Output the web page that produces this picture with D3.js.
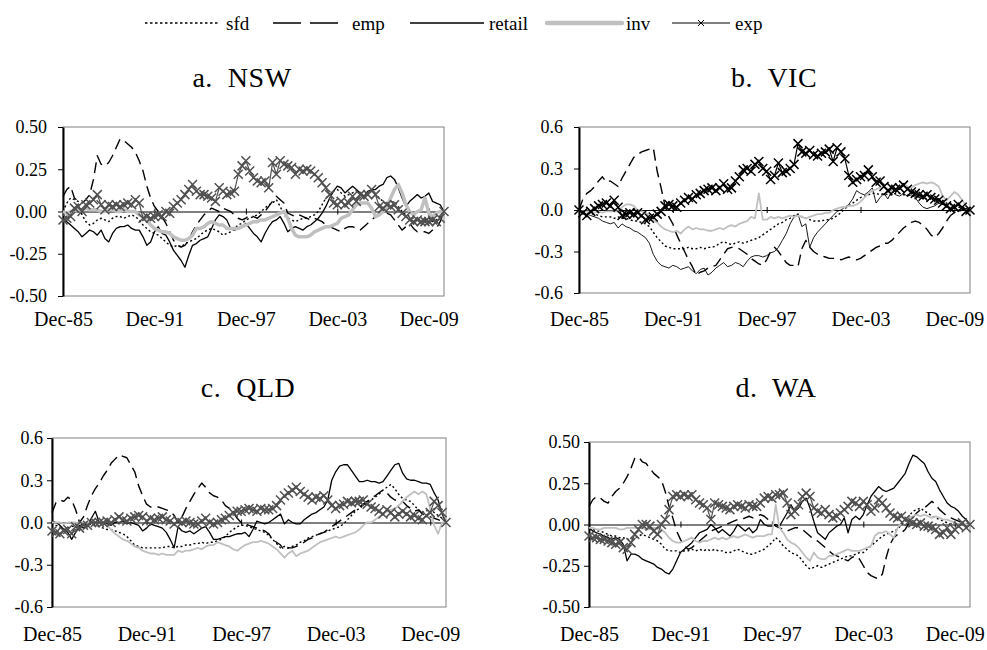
<!DOCTYPE html>
<html>
<head>
<meta charset="utf-8">
<script src="https://cdnjs.cloudflare.com/ajax/libs/d3/7.8.5/d3.min.js"></script>
<style>
  body { margin: 0; background: #fff; }
  svg text { font-family: "Liberation Serif", "DejaVu Serif", serif; fill: #000; }
</style>
</head>
<body>
<svg id="chart" width="987" height="650"></svg>
<script>
// quarterly points, Dec-85 .. Dec-10 (101 per series)
const tickIdx = [0, 24, 48, 72, 96];
const tickLabels = ["Dec-85", "Dec-91", "Dec-97", "Dec-03", "Dec-09"];
const seriesNames = ["sfd", "emp", "retail", "inv", "exp"];

// a. NSW
const nswSfd = [0.00,0.05,0.08,0.07,0.06,-0.02,-0.06,-0.08,-0.07,-0.05,
  -0.04,-0.05,-0.06,-0.04,-0.03,-0.03,-0.04,-0.03,-0.02,-0.03,
  -0.05,-0.08,-0.10,-0.12,-0.13,-0.14,-0.16,-0.18,-0.20,-0.21,
  -0.20,-0.21,-0.19,-0.18,-0.17,-0.16,-0.14,-0.12,-0.11,-0.10,
  -0.11,-0.12,-0.14,-0.13,-0.12,-0.10,-0.08,-0.07,-0.05,-0.04,
  -0.03,-0.02,0.00,0.02,0.04,0.05,0.07,0.03,-0.02,-0.04,
  -0.05,-0.06,-0.05,-0.04,-0.04,-0.03,-0.02,0.00,0.04,0.08,
  0.10,0.12,0.13,0.11,0.09,0.10,0.11,0.12,0.10,0.09,
  0.11,0.12,0.10,0.08,0.06,0.04,0.05,0.06,0.03,0.00,
  -0.02,-0.03,-0.04,-0.05,-0.06,-0.05,-0.04,-0.06,-0.05,-0.03,
  0.00];
const nswEmp = [0.09,0.13,0.15,0.08,0.06,0.05,0.07,0.10,0.19,0.33,
  0.28,0.27,0.29,0.33,0.38,0.43,0.42,0.40,0.38,0.35,
  0.30,0.24,0.15,0.08,0.03,0.00,-0.03,-0.07,-0.12,-0.17,
  -0.20,-0.21,-0.20,-0.17,-0.12,-0.08,-0.05,-0.02,0.00,0.02,
  0.01,0.00,0.02,0.01,0.00,-0.02,-0.04,-0.05,-0.04,-0.02,
  -0.03,-0.04,-0.02,0.00,0.03,0.06,0.09,0.07,0.05,-0.01,
  -0.02,-0.03,-0.02,-0.03,-0.04,-0.05,-0.04,-0.05,-0.06,-0.08,
  -0.09,-0.10,-0.11,-0.12,-0.10,-0.09,-0.09,-0.10,-0.11,-0.09,
  -0.07,-0.05,-0.03,-0.01,0.00,-0.01,-0.02,-0.05,-0.08,-0.11,
  -0.09,-0.07,-0.10,-0.12,-0.12,-0.12,-0.13,-0.11,-0.10,-0.06,
  0.00];
const nswRetail = [-0.05,-0.06,-0.08,-0.10,-0.12,-0.15,-0.13,-0.11,-0.12,-0.14,
  -0.11,-0.16,-0.18,-0.13,-0.10,-0.09,-0.09,-0.08,-0.10,-0.11,
  -0.11,-0.15,-0.20,-0.18,-0.12,-0.09,-0.13,-0.14,-0.18,-0.23,
  -0.26,-0.29,-0.33,-0.26,-0.20,-0.19,-0.17,-0.16,-0.15,-0.10,
  -0.05,-0.02,-0.03,-0.05,-0.10,-0.11,-0.10,-0.09,-0.07,-0.10,
  -0.13,-0.15,-0.18,-0.13,-0.09,-0.06,-0.05,-0.03,-0.07,-0.12,
  -0.10,-0.09,-0.10,-0.11,-0.09,-0.08,-0.06,-0.04,-0.01,0.03,
  0.08,0.12,0.15,0.14,0.11,0.13,0.15,0.13,0.11,0.09,
  0.12,0.13,0.13,0.15,0.16,0.20,0.21,0.19,0.14,0.08,
  0.03,0.06,0.08,0.10,0.08,0.09,0.11,0.06,0.05,0.04,
  0.00];
const nswInv = [0.00,-0.01,0.00,0.00,0.01,0.01,0.02,0.01,0.01,0.01,
  0.00,0.00,0.01,0.01,0.00,0.00,0.01,0.00,0.00,0.00,
  -0.02,-0.03,-0.05,-0.08,-0.10,-0.11,-0.12,-0.12,-0.13,-0.15,
  -0.16,-0.17,-0.17,-0.16,-0.14,-0.10,-0.10,-0.09,-0.07,-0.06,
  -0.07,-0.08,-0.08,-0.10,-0.10,-0.10,-0.10,-0.09,-0.08,-0.07,
  -0.06,-0.06,-0.05,-0.05,-0.04,-0.03,-0.02,-0.01,0.00,-0.04,
  -0.10,-0.14,-0.15,-0.15,-0.15,-0.14,-0.12,-0.11,-0.10,-0.09,
  -0.09,-0.08,-0.07,-0.04,-0.03,-0.02,0.01,0.04,0.05,0.05,
  0.05,0.02,-0.03,-0.02,0.00,0.03,0.08,0.13,0.16,0.11,
  0.04,0.00,-0.02,0.00,0.01,0.08,-0.01,-0.03,-0.01,0.00,
  0.00];
const nswExp = [-0.05,-0.04,-0.03,0.02,0.03,0.00,0.04,0.05,0.07,0.10,
  0.04,0.01,0.04,0.03,0.04,0.03,0.04,0.05,0.04,0.07,
  0.05,-0.04,-0.03,-0.04,-0.03,-0.02,-0.03,0.00,-0.01,0.03,
  0.05,0.07,0.10,0.13,0.16,0.12,0.10,0.10,0.09,0.08,
  0.06,0.14,0.12,0.10,0.11,0.12,0.22,0.27,0.30,0.24,
  0.20,0.18,0.17,0.18,0.14,0.29,0.22,0.30,0.28,0.27,
  0.26,0.22,0.25,0.24,0.25,0.24,0.22,0.20,0.17,0.14,
  0.10,0.05,0.04,0.06,0.04,0.05,0.09,0.06,0.10,0.09,
  0.10,0.13,0.10,0.03,0.02,0.04,0.03,0.04,0.01,-0.01,
  -0.03,-0.05,-0.06,-0.05,-0.06,-0.06,-0.06,-0.05,-0.06,-0.04,
  0.00];

// b. VIC
const vicSfd = [0.00,-0.01,-0.02,-0.03,-0.03,-0.04,-0.05,-0.05,-0.05,-0.06,
  -0.05,-0.06,-0.06,-0.07,-0.08,-0.08,-0.09,-0.10,-0.12,-0.16,
  -0.20,-0.23,-0.26,-0.27,-0.28,-0.28,-0.28,-0.28,-0.27,-0.28,
  -0.28,-0.27,-0.28,-0.27,-0.27,-0.26,-0.24,-0.23,-0.24,-0.25,
  -0.24,-0.23,-0.24,-0.23,-0.22,-0.21,-0.20,-0.18,-0.16,-0.14,
  -0.12,-0.10,-0.09,-0.07,-0.06,-0.04,-0.03,-0.05,-0.06,-0.07,
  -0.08,-0.08,-0.08,-0.07,-0.07,-0.06,-0.04,-0.02,0.01,0.03,
  0.05,0.07,0.09,0.10,0.11,0.12,0.12,0.11,0.12,0.11,
  0.11,0.12,0.12,0.11,0.11,0.10,0.10,0.09,0.09,0.08,
  0.08,0.07,0.08,0.07,0.05,0.04,0.03,0.02,0.02,0.01,
  0.00];
const vicEmp = [0.00,0.08,0.12,0.14,0.17,0.21,0.24,0.20,0.21,0.19,
  0.17,0.23,0.28,0.33,0.38,0.40,0.42,0.43,0.44,0.45,
  0.28,0.16,0.03,-0.05,-0.10,-0.18,-0.24,-0.30,-0.36,-0.41,
  -0.47,-0.45,-0.44,-0.42,-0.41,-0.40,-0.36,-0.32,-0.28,-0.27,
  -0.27,-0.28,-0.30,-0.32,-0.35,-0.37,-0.39,-0.40,-0.36,-0.30,
  -0.27,-0.30,-0.34,-0.38,-0.40,-0.40,-0.41,-0.28,-0.22,-0.27,
  -0.30,-0.32,-0.33,-0.34,-0.35,-0.35,-0.35,-0.36,-0.35,-0.34,
  -0.35,-0.36,-0.35,-0.33,-0.31,-0.29,-0.27,-0.26,-0.24,-0.24,
  -0.22,-0.19,-0.16,-0.13,-0.11,-0.09,-0.08,-0.09,-0.11,-0.14,
  -0.18,-0.20,-0.17,-0.13,-0.08,-0.04,-0.02,-0.01,0.00,0.01,
  0.00];
const vicRetail = [0.00,-0.02,-0.03,-0.04,-0.05,-0.06,-0.08,-0.09,-0.10,-0.09,
  -0.13,-0.10,-0.12,-0.13,-0.15,-0.16,-0.18,-0.20,-0.24,-0.32,
  -0.37,-0.40,-0.41,-0.42,-0.40,-0.41,-0.43,-0.42,-0.41,-0.44,
  -0.46,-0.43,-0.42,-0.47,-0.45,-0.42,-0.40,-0.38,-0.41,-0.40,
  -0.38,-0.39,-0.41,-0.37,-0.34,-0.33,-0.33,-0.34,-0.33,-0.31,
  -0.30,-0.27,-0.22,-0.17,-0.10,-0.05,-0.03,-0.12,-0.10,-0.27,
  -0.20,-0.16,-0.13,-0.10,-0.07,-0.04,-0.01,0.00,0.02,0.04,
  0.08,0.14,0.12,0.11,0.13,0.16,0.05,0.09,0.12,0.08,
  0.14,0.11,0.10,0.12,0.10,0.11,0.09,0.05,0.02,0.01,
  0.02,0.03,0.05,0.04,0.03,0.01,0.02,0.00,0.01,-0.01,
  0.00];
const vicInv = [0.00,-0.01,-0.01,-0.01,-0.02,-0.01,-0.02,-0.01,-0.01,-0.01,
  -0.01,0.02,0.04,0.04,0.03,0.00,-0.01,-0.02,-0.04,-0.07,
  -0.09,-0.12,-0.14,-0.15,-0.16,-0.15,-0.17,-0.14,-0.12,-0.14,
  -0.13,-0.14,-0.14,-0.15,-0.15,-0.14,-0.13,-0.14,-0.12,-0.11,
  -0.12,-0.10,-0.09,-0.08,-0.05,-0.06,0.12,-0.07,-0.07,-0.05,
  -0.06,-0.05,-0.06,-0.05,-0.04,-0.05,-0.04,-0.05,-0.06,-0.05,
  -0.04,-0.03,-0.03,-0.02,-0.02,0.00,0.01,0.02,0.02,0.03,
  0.03,0.04,0.06,0.09,0.12,0.14,0.15,0.16,0.17,0.15,
  0.13,0.15,0.16,0.19,0.17,0.16,0.18,0.19,0.20,0.19,
  0.20,0.19,0.17,0.10,0.07,0.10,0.13,0.11,0.07,0.03,
  0.00];
const vicExp = [0.00,-0.02,-0.04,-0.01,0.01,0.03,0.04,0.05,0.03,0.07,
  0.02,-0.04,-0.03,-0.02,-0.03,-0.02,-0.04,-0.07,-0.06,-0.05,
  -0.03,-0.01,0.03,0.04,0.03,0.02,0.05,0.07,0.09,0.08,
  0.11,0.12,0.14,0.15,0.16,0.14,0.16,0.19,0.15,0.16,
  0.21,0.24,0.29,0.30,0.28,0.33,0.35,0.30,0.28,0.22,
  0.25,0.34,0.27,0.28,0.30,0.33,0.48,0.42,0.41,0.43,
  0.40,0.39,0.41,0.42,0.44,0.35,0.45,0.42,0.37,0.25,
  0.20,0.22,0.24,0.25,0.29,0.24,0.20,0.21,0.17,0.14,
  0.16,0.15,0.16,0.18,0.15,0.13,0.12,0.11,0.10,0.11,
  0.09,0.08,0.07,0.05,0.03,0.01,0.02,0.04,0.02,-0.01,
  0.00];

// c. QLD
const qldSfd = [0.00,-0.02,-0.03,-0.05,-0.04,-0.03,-0.02,-0.02,-0.01,-0.02,
  -0.01,-0.02,-0.03,-0.04,-0.05,-0.05,-0.06,-0.07,-0.08,-0.10,
  -0.13,-0.16,-0.17,-0.18,-0.18,-0.18,-0.18,-0.18,-0.18,-0.17,
  -0.17,-0.18,-0.17,-0.17,-0.16,-0.16,-0.15,-0.15,-0.14,-0.15,
  -0.14,-0.14,-0.13,-0.12,-0.10,-0.07,-0.05,-0.03,-0.02,-0.02,
  -0.03,-0.04,-0.05,-0.06,-0.07,-0.09,-0.12,-0.15,-0.18,-0.17,
  -0.18,-0.17,-0.16,-0.14,-0.13,-0.11,-0.10,-0.09,-0.08,-0.07,
  -0.06,-0.05,-0.04,-0.03,-0.01,0.02,0.05,0.08,0.10,0.12,
  0.14,0.16,0.18,0.20,0.23,0.25,0.27,0.24,0.20,0.17,
  0.16,0.15,0.12,0.09,0.07,0.08,0.10,0.07,0.05,0.03,
  0.00];
const qldEmp = [0.07,0.14,0.16,0.15,0.18,0.16,0.09,0.00,0.04,0.12,
  0.19,0.24,0.28,0.33,0.37,0.42,0.45,0.48,0.47,0.46,
  0.41,0.36,0.26,0.19,0.13,0.11,0.11,0.11,0.10,0.09,
  0.08,0.05,0.00,0.04,0.10,0.15,0.20,0.24,0.28,0.25,
  0.21,0.19,0.18,0.16,0.12,0.10,0.07,0.03,0.00,-0.01,
  -0.02,-0.03,-0.04,-0.05,-0.06,-0.08,-0.12,-0.14,-0.16,-0.20,
  -0.18,-0.18,-0.17,-0.16,-0.14,-0.12,-0.11,-0.09,-0.08,-0.07,
  -0.05,-0.03,-0.01,0.01,0.03,0.05,0.07,0.09,0.11,0.13,
  0.15,0.17,0.19,0.21,0.23,0.21,0.18,0.16,0.16,0.15,
  0.12,0.10,0.08,0.09,0.06,0.05,0.04,0.03,0.02,0.01,
  0.00];
const qldRetail = [0.01,0.00,-0.02,-0.05,-0.07,-0.12,-0.07,-0.02,-0.04,-0.03,
  0.03,0.08,0.00,-0.01,-0.01,-0.02,0.00,0.00,0.01,-0.01,
  0.00,-0.01,-0.02,-0.06,-0.04,-0.01,-0.02,-0.03,-0.04,-0.07,
  -0.12,-0.18,-0.03,-0.06,-0.07,-0.06,-0.08,-0.06,-0.04,-0.03,
  -0.07,-0.12,-0.12,-0.11,-0.10,-0.10,-0.09,-0.08,-0.08,-0.07,
  -0.10,-0.05,0.01,0.00,-0.01,0.00,0.02,0.04,0.06,-0.01,
  0.02,0.00,-0.01,-0.01,0.02,0.04,0.06,0.07,0.09,0.11,
  0.16,0.30,0.36,0.40,0.41,0.41,0.37,0.33,0.29,0.29,
  0.30,0.29,0.29,0.28,0.29,0.33,0.37,0.41,0.42,0.35,
  0.31,0.30,0.30,0.29,0.28,0.28,0.27,0.21,0.16,0.06,
  0.00];
const qldInv = [0.00,0.00,0.00,-0.01,0.00,0.00,0.00,-0.01,0.00,0.00,
  0.00,0.00,0.00,-0.01,-0.02,-0.05,-0.08,-0.10,-0.12,-0.13,
  -0.15,-0.17,-0.18,-0.20,-0.21,-0.22,-0.22,-0.23,-0.22,-0.23,
  -0.23,-0.23,-0.20,-0.21,-0.20,-0.20,-0.19,-0.18,-0.19,-0.17,
  -0.16,-0.16,-0.14,-0.15,-0.16,-0.17,-0.19,-0.20,-0.18,-0.16,
  -0.15,-0.14,-0.14,-0.13,-0.14,-0.15,-0.17,-0.19,-0.22,-0.25,
  -0.22,-0.20,-0.24,-0.22,-0.21,-0.20,-0.18,-0.16,-0.14,-0.13,
  -0.12,-0.11,-0.10,-0.11,-0.10,-0.09,-0.08,-0.07,-0.05,-0.02,
  0.00,0.00,0.02,0.04,0.06,0.08,0.09,0.10,0.12,0.15,
  0.18,0.20,0.22,0.20,0.22,0.20,0.10,-0.02,-0.08,0.00,
  0.00];
const qldExp = [-0.06,-0.07,-0.08,-0.06,-0.05,-0.08,-0.03,-0.04,-0.02,-0.02,
  0.00,0.00,0.00,0.00,0.01,0.00,0.02,0.04,0.02,0.01,
  0.03,0.04,0.05,0.04,0.01,0.03,0.02,0.03,0.04,0.02,
  0.01,-0.01,0.01,0.00,0.01,0.00,-0.01,-0.01,0.01,0.03,
  0.00,-0.01,0.00,0.02,0.03,0.05,0.07,0.08,0.08,0.09,
  0.10,0.09,0.08,0.10,0.09,0.09,0.10,0.12,0.16,0.19,
  0.21,0.23,0.25,0.22,0.20,0.18,0.16,0.18,0.17,0.19,
  0.16,0.12,0.10,0.12,0.13,0.15,0.14,0.15,0.15,0.16,
  0.13,0.11,0.10,0.08,0.06,0.09,0.07,0.04,0.06,0.08,
  0.06,0.04,0.05,0.03,0.02,0.05,0.07,0.15,0.12,0.07,
  0.00];

// d. WA
const waSfd = [-0.02,-0.03,-0.04,-0.04,-0.05,-0.06,-0.07,-0.07,-0.08,-0.08,
  -0.09,-0.09,-0.08,-0.07,-0.06,-0.07,-0.08,-0.09,-0.10,-0.12,
  -0.15,-0.16,-0.16,-0.16,-0.17,-0.16,-0.16,-0.15,-0.16,-0.15,
  -0.16,-0.15,-0.16,-0.15,-0.16,-0.16,-0.17,-0.17,-0.16,-0.15,
  -0.16,-0.17,-0.18,-0.18,-0.17,-0.16,-0.15,-0.13,-0.11,-0.08,
  -0.10,-0.13,-0.15,-0.17,-0.18,-0.19,-0.22,-0.25,-0.27,-0.26,
  -0.25,-0.26,-0.25,-0.24,-0.23,-0.22,-0.21,-0.20,-0.19,-0.19,
  -0.18,-0.17,-0.17,-0.15,-0.13,-0.11,-0.09,-0.07,-0.06,-0.05,
  -0.04,-0.03,0.00,0.02,0.05,0.08,0.09,0.10,0.08,0.07,
  0.05,0.04,0.03,0.02,0.01,0.00,0.01,0.00,0.01,0.00,
  0.00];
const waEmp = [0.11,0.15,0.17,0.16,0.14,0.13,0.17,0.20,0.22,0.25,
  0.29,0.34,0.40,0.41,0.38,0.37,0.34,0.31,0.29,0.27,
  0.20,0.11,0.04,-0.04,-0.09,-0.13,-0.15,-0.14,-0.12,-0.10,
  -0.08,-0.06,-0.04,-0.03,-0.02,-0.01,0.00,0.01,0.02,0.03,
  0.03,0.04,0.05,0.04,0.05,0.06,0.05,0.03,0.01,-0.01,
  -0.02,-0.03,-0.04,-0.03,-0.02,-0.02,-0.03,-0.05,-0.07,-0.09,
  -0.10,-0.12,-0.14,-0.16,-0.18,-0.19,-0.20,-0.21,-0.22,-0.20,
  -0.19,-0.21,-0.25,-0.29,-0.31,-0.32,-0.33,-0.30,-0.20,-0.12,
  -0.08,-0.06,-0.05,-0.03,0.01,0.04,0.07,0.09,0.10,0.12,
  0.14,0.12,0.09,0.07,0.05,0.04,0.03,0.02,0.01,0.01,
  0.00];
const waRetail = [-0.02,-0.04,-0.05,-0.06,-0.07,-0.08,-0.09,-0.08,-0.09,-0.12,
  -0.22,-0.18,-0.18,-0.19,-0.21,-0.22,-0.23,-0.24,-0.26,-0.27,
  -0.29,-0.30,-0.27,-0.22,-0.17,-0.15,-0.13,-0.11,-0.08,-0.05,
  -0.04,-0.03,0.00,-0.02,-0.05,-0.03,-0.05,-0.07,-0.04,0.00,
  -0.02,-0.04,-0.02,-0.05,-0.03,0.03,0.00,-0.01,-0.01,0.00,
  -0.01,0.03,0.07,0.12,0.08,0.10,0.14,0.16,0.10,0.02,
  -0.05,-0.07,-0.09,-0.05,-0.03,-0.01,0.00,0.04,-0.05,0.03,
  0.05,0.03,0.06,0.12,0.17,0.20,0.23,0.21,0.20,0.21,
  0.22,0.25,0.28,0.31,0.37,0.42,0.41,0.39,0.37,0.32,
  0.28,0.26,0.21,0.17,0.13,0.11,0.10,0.08,0.05,0.03,
  0.00];
const waInv = [-0.02,-0.02,-0.03,-0.03,-0.02,-0.02,-0.02,-0.02,-0.03,-0.03,
  -0.02,-0.02,-0.02,-0.02,-0.02,-0.03,-0.03,-0.02,-0.02,-0.03,
  -0.05,-0.08,-0.10,-0.11,-0.11,-0.10,-0.09,-0.08,-0.10,-0.11,
  -0.10,-0.10,-0.09,-0.08,-0.09,-0.08,-0.09,-0.08,-0.07,-0.08,
  -0.07,-0.06,-0.07,-0.08,-0.07,-0.07,-0.07,-0.06,-0.06,0.12,
  -0.02,-0.05,-0.09,-0.11,-0.12,-0.14,-0.17,-0.20,-0.22,-0.17,
  -0.20,-0.21,-0.21,-0.19,-0.19,-0.18,-0.17,-0.16,-0.15,-0.16,
  -0.16,-0.16,-0.15,-0.14,-0.13,-0.07,-0.05,-0.05,-0.04,-0.06,
  -0.08,-0.02,0.01,0.03,0.04,0.05,0.06,0.05,0.06,0.05,
  0.04,0.05,0.04,0.03,0.03,0.02,0.01,0.00,0.01,0.00,
  0.00];
const waExp = [-0.07,-0.08,-0.08,-0.09,-0.09,-0.10,-0.11,-0.12,-0.11,-0.14,
  -0.15,-0.11,-0.06,-0.03,0.00,0.00,-0.01,-0.04,-0.06,0.00,
  0.03,0.09,0.17,0.18,0.17,0.18,0.17,0.18,0.15,0.13,
  0.12,0.10,0.03,0.13,0.12,0.11,0.10,0.09,0.11,0.12,
  0.11,0.10,0.12,0.11,0.11,0.13,0.16,0.17,0.16,0.18,
  0.18,0.19,0.13,0.06,0.08,0.12,0.17,0.19,0.17,0.10,
  0.08,0.07,0.09,0.06,0.04,0.05,0.07,0.09,0.11,0.14,
  0.13,0.11,0.14,0.12,0.08,0.10,0.15,0.13,0.10,0.07,
  0.05,0.04,0.05,0.03,0.02,0.01,0.00,0.01,-0.01,-0.01,
  -0.02,-0.03,-0.06,-0.05,-0.02,-0.06,-0.03,-0.01,0.01,-0.02,
  0.00];

const panels = [
  {title: "a.  NSW", series: [nswSfd, nswEmp, nswRetail, nswInv, nswExp],
   left: 63, right: 444, top: 127, bottom: 296, lim: 0.5, step: 0.25, fmt: ".2f",
   labelGap: 11, titleX: 242, titleY: 87, xLabelY: 326, invWidth: 3.5, expColor: "#505050", retailWidth: 1.3},
  {title: "b.  VIC", series: [vicSfd, vicEmp, vicRetail, vicInv, vicExp],
   left: 579, right: 970, top: 127, bottom: 293, lim: 0.6, step: 0.3, fmt: ".1f",
   labelGap: 11, titleX: 774, titleY: 87, xLabelY: 326, invWidth: 1.8, expColor: "#000", retailWidth: 0.9},
  {title: "c.  QLD", series: [qldSfd, qldEmp, qldRetail, qldInv, qldExp],
   left: 52, right: 446, top: 438, bottom: 607, lim: 0.6, step: 0.3, fmt: ".1f",
   labelGap: 4, titleX: 248, titleY: 397, xLabelY: 641, invWidth: 1.8, expColor: "#505050", retailWidth: 1.3},
  {title: "d.  WA", series: [waSfd, waEmp, waRetail, waInv, waExp],
   left: 589, right: 970, top: 442, bottom: 607, lim: 0.5, step: 0.25, fmt: ".2f",
   labelGap: 4, titleX: 776, titleY: 397, xLabelY: 641, invWidth: 1.8, expColor: "#505050", retailWidth: 1.3}
];

const svg = d3.select("#chart");
const xMark = "M-4.5,-4.5L4.5,4.5M-4.5,4.5L4.5,-4.5";
const serif = "'Liberation Serif', 'DejaVu Serif', serif";

// ---- legend
const legend = [
  {name: "sfd", x1: 145, x2: 218, tx: 226},
  {name: "emp", x1: 273, x2: 338, tx: 352},
  {name: "retail", x1: 410, x2: 484, tx: 489},
  {name: "inv", x1: 547, x2: 622, tx: 626},
  {name: "exp", x1: 672, x2: 730, tx: 735}
];
const legendStyle = {
  sfd: {stroke: "#000", width: 1.3, dash: "2.5,2.5"},
  emp: {stroke: "#000", width: 1.3, dash: "28,9"},
  retail: {stroke: "#000", width: 1.3, dash: null},
  inv: {stroke: "#c0c0c0", width: 4.5, dash: null},
  exp: {stroke: "#000", width: 1.1, dash: null}
};
const lg = svg.append("g").attr("class", "legend");
legend.forEach(function (d) {
  const st = legendStyle[d.name];
  lg.append("line")
    .attr("x1", d.x1).attr("x2", d.x2).attr("y1", 23).attr("y2", 23)
    .attr("stroke", st.stroke).attr("stroke-width", st.width)
    .attr("stroke-dasharray", st.dash)
    .attr("stroke-linecap", d.name === "inv" ? "round" : "butt");
  if (d.name === "exp") {
    lg.append("path").attr("d", "M-3,-3L3,3M-3,3L3,-3")
      .attr("transform", "translate(" + ((d.x1 + d.x2) / 2) + ",23)")
      .attr("stroke", "#000").attr("stroke-width", 1).attr("fill", "none");
  }
  lg.append("text").attr("x", d.tx).attr("y", 30)
    .attr("font-family", serif)
    .style("font-size", "19px").text(d.name);
});

// ---- panels
panels.forEach(function (p) {
  const x = d3.scaleLinear().domain([0, 100]).range([p.left, p.right]);
  const y = d3.scaleLinear().domain([-p.lim, p.lim]).range([p.bottom, p.top]);
  const g = svg.append("g");

  g.append("text")
    .attr("x", p.titleX).attr("y", p.titleY)
    .attr("text-anchor", "middle")
    .attr("font-family", serif)
    .style("font-size", "28px").style("white-space", "pre").style("letter-spacing", "0.5px")
    .text(p.title);

  // plot border
  g.append("rect")
    .attr("x", p.left).attr("y", p.top)
    .attr("width", p.right - p.left).attr("height", p.bottom - p.top)
    .attr("fill", "none").attr("stroke", "#808080").attr("stroke-width", 1);

  // y axis
  const yTicks = [-p.lim, -p.lim + p.step, 0, p.lim - p.step, p.lim];
  const f = d3.format(p.fmt);
  const yAxis = g.append("g")
    .attr("transform", "translate(" + p.left + ",0)")
    .attr("font-family", serif)
    .call(d3.axisLeft(y).tickValues(yTicks).tickSizeInner(5).tickSizeOuter(0)
      .tickPadding(p.labelGap).tickFormat(function (d) { return f(d).replace("\u2212", "-"); }));
  yAxis.attr("font-family", serif);
  yAxis.select(".domain").attr("stroke", "#000").attr("stroke-width", 2);
  yAxis.selectAll("line").attr("stroke", "#000");
  yAxis.selectAll("text").style("font-size", "18px");

  // zero line with ticks
  const zAxis = g.append("g")
    .attr("transform", "translate(0," + y(0) + ")")
    .call(d3.axisBottom(x).tickValues(tickIdx).tickSizeInner(3).tickSizeOuter(0).tickFormat(""));
  zAxis.select(".domain").attr("stroke", "#000").attr("stroke-width", 1);
  zAxis.selectAll(".tick line").attr("y1", -3).attr("stroke", "#000");

  // x labels
  const lab = g.append("g")
    .attr("transform", "translate(0," + (p.xLabelY - 14.2) + ")")
    .call(d3.axisBottom(x).tickValues(tickIdx).tickSize(0).tickPadding(0)
      .tickFormat(function (d, i) { return tickLabels[i]; }));
  lab.attr("font-family", serif);
  lab.select(".domain").remove();
  lab.selectAll("text").style("font-size", "20px");

  const line = d3.line().x(function (d, i) { return x(i); }).y(function (d) { return y(d); });
  const styles = {
    sfd: {stroke: "#000", width: 1.4, dash: "2,2.5"},
    emp: {stroke: "#000", width: 1.4, dash: "11,6"},
    retail: {stroke: "#000", width: p.retailWidth, dash: null},
    inv: {stroke: "#c0c0c0", width: p.invWidth, dash: null},
    exp: {stroke: p.expColor, width: 1.2, dash: null}
  };

  p.series.forEach(function (vals, k) {
    const st = styles[seriesNames[k]];
    g.append("path")
      .datum(vals)
      .attr("d", line)
      .attr("fill", "none")
      .attr("stroke", st.stroke)
      .attr("stroke-width", st.width)
      .attr("stroke-dasharray", st.dash)
      .attr("stroke-linejoin", "round");
  });

  // exp markers
  const expVals = p.series[4];
  g.append("g").selectAll("path")
    .data(expVals)
    .join("path")
    .attr("d", xMark)
    .attr("transform", function (d, i) { return "translate(" + x(i) + "," + y(d) + ")"; })
    .attr("fill", "none")
    .attr("stroke", p.expColor)
    .attr("stroke-width", 1.5);
});
</script>
</body>
</html>
